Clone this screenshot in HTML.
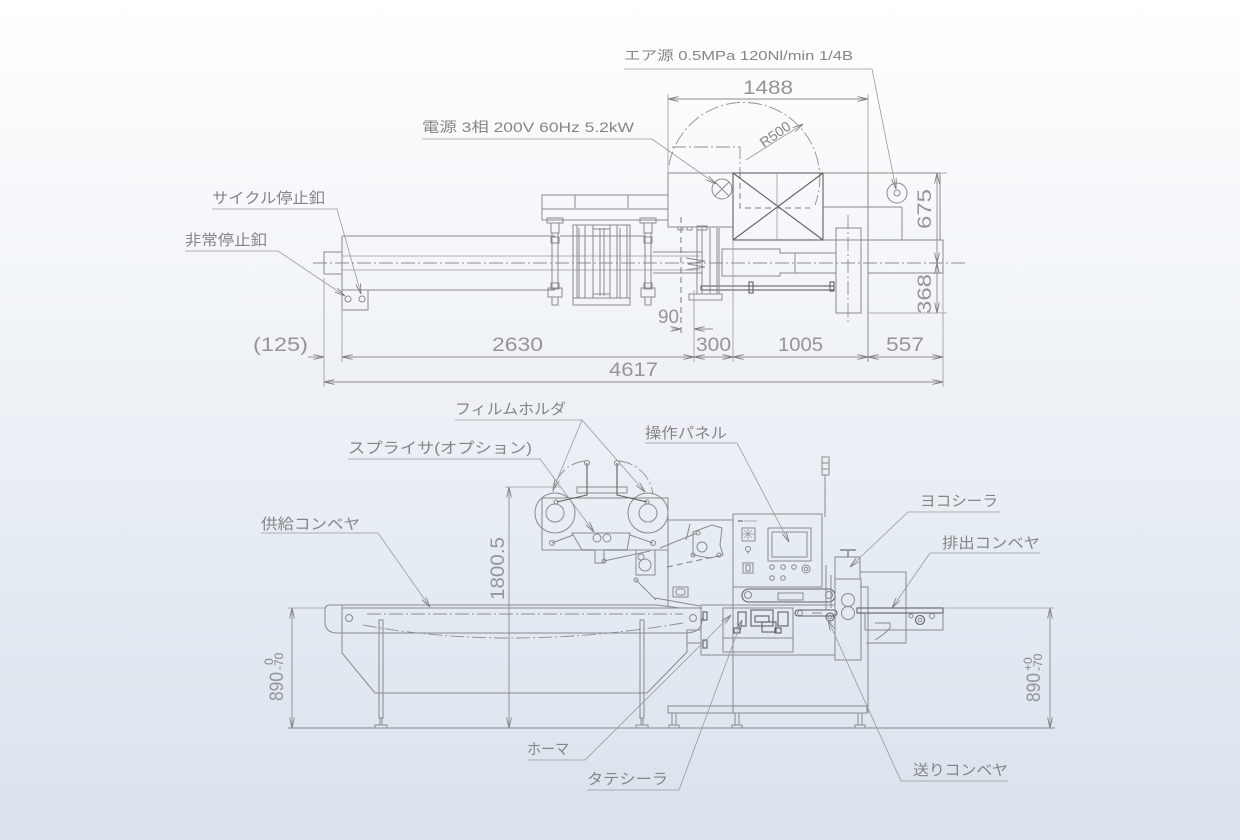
<!DOCTYPE html>
<html><head><meta charset="utf-8"><style>
html,body{margin:0;padding:0;width:1240px;height:840px;overflow:hidden;}
svg{display:block}
text{font-family:"Liberation Sans","Noto Sans CJK JP",sans-serif;fill:#858585;}
.l{stroke:#8a8a8a;stroke-width:1;fill:none}
.k{stroke:#606060;stroke-width:1.1;fill:none}
.t{stroke:#9a9a9a;stroke-width:0.8;fill:none}
.dc{stroke:#8e8e8e;stroke-width:0.9;fill:none;stroke-dasharray:14 3 2 3}
.dh{stroke:#7e7e7e;stroke-width:1;fill:none;stroke-dasharray:6 4}
.dm{stroke:#8c8c8c;stroke-width:0.9;fill:none}
.lb{font-size:15px}
.dn{font-size:19px;fill:#959595}
</style></head><body>
<svg width="1240" height="840" viewBox="0 0 1240 840" xmlns="http://www.w3.org/2000/svg">
<defs>
<linearGradient id="bg" x1="0" y1="0" x2="0" y2="1">
<stop offset="0" stop-color="#ffffff"/>
<stop offset="0.45" stop-color="#eef2f7"/>
<stop offset="1" stop-color="#d9e2ed"/>
</linearGradient>
<marker id="a" markerWidth="11" markerHeight="5" refX="11" refY="2.5" orient="auto" markerUnits="userSpaceOnUse">
<path d="M0,0 L11,2.5 L0,5" fill="none" stroke="#808080" stroke-width="0.9"/>
</marker>
<marker id="as" markerWidth="11" markerHeight="5" refX="11" refY="2.5" orient="auto-start-reverse" markerUnits="userSpaceOnUse">
<path d="M0,0 L11,2.5 L0,5" fill="none" stroke="#808080" stroke-width="0.9"/>
</marker>
</defs>
<rect x="0" y="0" width="1240" height="840" fill="url(#bg)"/>

<!-- ================= TOP VIEW ================= -->
<text x="624" y="60" font-size="13" textLength="229" lengthAdjust="spacingAndGlyphs">エア源 0.5MPa 120Nl/min 1/4B</text>
<polyline class="t" points="624,69 872,69 896,189" marker-end="url(#a)"/>
<text x="422" y="132" font-size="14" textLength="212" lengthAdjust="spacingAndGlyphs">電源 3相 200V 60Hz 5.2kW</text>
<polyline class="t" points="422,139 652,139 716,184" marker-end="url(#a)"/>

<text class="lb" x="212" y="203" textLength="113" lengthAdjust="spacingAndGlyphs">サイクル停止釦</text>
<polyline class="t" points="212,209 337,209 361,294" marker-end="url(#a)"/>
<text class="lb" x="185" y="245" textLength="82" lengthAdjust="spacingAndGlyphs">非常停止釦</text>
<polyline class="t" points="185,251 278,251 345,296" marker-end="url(#a)"/>

<text class="dn" x="743" y="94" textLength="50" lengthAdjust="spacingAndGlyphs">1488</text>
<line class="dm" x1="668" y1="99" x2="868" y2="99" marker-start="url(#as)" marker-end="url(#as)"/>
<line class="t" x1="668" y1="94" x2="668" y2="173"/>
<line class="t" x1="868" y1="94" x2="868" y2="173"/>

<path class="dc" d="M669,165 A76,76 0 1 1 815,205"/>
<line class="t" x1="746" y1="160" x2="803" y2="124" marker-end="url(#a)"/>
<text x="0" y="0" font-size="14" transform="translate(764,148) rotate(-35)" textLength="34" lengthAdjust="spacingAndGlyphs">R500</text>
<polyline class="dc" points="672,147 740,147 740,173"/>
<polyline class="dh" points="740,173 740,208 810,208"/>

<line class="dc" x1="313" y1="263" x2="966" y2="263"/>

<rect class="l" x="324" y="252" width="18" height="22"/>
<line class="l" x1="342" y1="236" x2="555" y2="236"/>
<line class="l" x1="342" y1="236" x2="342" y2="290"/>
<line class="t" x1="342" y1="256" x2="700" y2="256"/>
<line class="t" x1="342" y1="270" x2="700" y2="270"/>
<line class="l" x1="342" y1="290" x2="555" y2="290"/>
<line class="l" x1="560" y1="236" x2="645" y2="236"/>
<line class="l" x1="653" y1="252" x2="702" y2="252"/>
<line class="l" x1="653" y1="273" x2="702" y2="273"/>
<rect class="l" x="342" y="290" width="26" height="20"/>
<circle class="l" cx="348" cy="299" r="3"/>
<circle class="l" cx="362" cy="299" r="3"/>

<rect class="l" x="542" y="195" width="126" height="25"/>
<polyline class="l" points="575,208 575,195"/>
<polyline class="l" points="628,208 628,195"/>
<line class="l" x1="542" y1="209" x2="668" y2="209"/>

<g class="l">
<rect x="547" y="218" width="16" height="5"/>
<rect x="551" y="223" width="8" height="10"/>
<rect x="552" y="233" width="6" height="55"/>
<rect x="551" y="237" width="8" height="6"/>
<rect x="551" y="283" width="8" height="6"/>
<rect x="548" y="288" width="14" height="9"/>
<rect x="552" y="297" width="6" height="8"/>
<rect x="640" y="218" width="16" height="5"/>
<rect x="644" y="223" width="8" height="10"/>
<rect x="645" y="233" width="6" height="55"/>
<rect x="644" y="237" width="8" height="6"/>
<rect x="644" y="283" width="8" height="6"/>
<rect x="641" y="288" width="14" height="9"/>
<rect x="645" y="297" width="6" height="8"/>
</g>
<rect class="l" x="573" y="225" width="57" height="73"/>
<rect class="l" x="573" y="298" width="57" height="7"/>
<g class="l">
<line x1="577" y1="225" x2="577" y2="298"/><line x1="579" y1="228" x2="579" y2="298"/>
<line x1="585" y1="225" x2="585" y2="298"/><line x1="593" y1="225" x2="593" y2="298"/>
<line x1="600" y1="228" x2="600" y2="296"/><line x1="604" y1="228" x2="604" y2="296"/>
<line x1="610" y1="225" x2="610" y2="298"/><line x1="617" y1="225" x2="617" y2="298"/>
<line x1="620" y1="228" x2="620" y2="298"/><line x1="627" y1="225" x2="627" y2="298"/>
<line x1="593" y1="229" x2="610" y2="229"/><line x1="593" y1="294" x2="610" y2="294"/>
</g>

<rect class="l" x="668" y="173" width="65" height="54"/>
<circle class="l" cx="722" cy="189" r="10"/>
<line class="l" x1="715" y1="182" x2="729" y2="196"/><line class="l" x1="729" y1="182" x2="715" y2="196"/>
<g class="l"><rect x="678" y="227" width="5" height="3"/><rect x="687" y="227" width="5" height="3"/></g>
<rect class="k" x="733" y="173" width="90" height="67"/>
<line class="k" x1="733" y1="173" x2="823" y2="240"/>
<line class="k" x1="823" y1="173" x2="733" y2="240"/>
<line class="t" x1="777" y1="173" x2="777" y2="240"/>
<line class="l" x1="823" y1="173" x2="940" y2="173"/>
<line class="l" x1="940" y1="173" x2="940" y2="240"/>
<line class="l" x1="823" y1="207" x2="902" y2="207"/>
<line class="l" x1="902" y1="207" x2="902" y2="240"/>
<line class="l" x1="868" y1="173" x2="868" y2="362"/>
<line class="l" x1="823" y1="240" x2="868" y2="240"/>
<rect class="l" x="868" y="240" width="75" height="33"/>
<circle class="l" cx="897" cy="193" r="10"/>
<circle class="l" cx="897" cy="193" r="3"/>
<rect class="l" x="836" y="228" width="25" height="85"/>
<line class="dc" x1="848" y1="215" x2="848" y2="323"/>
<path class="l" d="M722,249 H780 V253 H795 V273 H780 V276 H722 Z"/>
<line class="l" x1="795" y1="253" x2="836" y2="253"/>
<line class="l" x1="795" y1="273" x2="836" y2="273"/>
<rect class="k" x="701" y="286" width="133" height="4"/>
<rect class="k" x="749" y="282" width="4" height="11"/>
<rect class="k" x="830" y="282" width="4" height="9"/>
<g class="l">
<line x1="697" y1="228" x2="697" y2="294"/><line x1="702" y1="228" x2="702" y2="294"/>
<line x1="710" y1="228" x2="710" y2="294"/><line x1="717" y1="228" x2="717" y2="294"/>
<line x1="719" y1="228" x2="719" y2="294"/>
<rect x="689" y="294" width="33" height="6"/>
<rect x="697" y="226" width="10" height="4"/>
</g>
<polyline class="l" points="686,258 705,261 688,264 705,267 686,270"/>

<line class="t" x1="940" y1="173" x2="947" y2="173"/>
<line class="t" x1="868" y1="313" x2="947" y2="313"/>
<line class="dm" x1="937" y1="173" x2="937" y2="263" marker-start="url(#as)" marker-end="url(#as)"/>
<line class="dm" x1="937" y1="263" x2="937" y2="313" marker-start="url(#as)" marker-end="url(#as)"/>
<text class="dn" transform="translate(931,229) rotate(-90)" textLength="40" lengthAdjust="spacingAndGlyphs">675</text>
<text class="dn" transform="translate(931,314) rotate(-90)" textLength="40" lengthAdjust="spacingAndGlyphs">368</text>

<line class="dh" x1="681" y1="217" x2="681" y2="333"/>
<line class="t" x1="694" y1="290" x2="694" y2="362"/>
<line class="dm" x1="672" y1="329" x2="681" y2="329" marker-end="url(#a)"/>
<line class="dm" x1="713" y1="329" x2="694" y2="329" marker-end="url(#a)"/>
<text class="dn" x="658" y="323" textLength="21" lengthAdjust="spacingAndGlyphs">90</text>

<line class="t" x1="324" y1="278" x2="324" y2="387"/>
<line class="t" x1="342" y1="310" x2="342" y2="362"/>
<line class="t" x1="733" y1="240" x2="733" y2="362"/>
<line class="t" x1="943" y1="273" x2="943" y2="387"/>
<line class="dm" x1="308" y1="357" x2="324" y2="357" marker-end="url(#a)"/>
<line class="dm" x1="342" y1="357" x2="694" y2="357" marker-start="url(#as)" marker-end="url(#as)"/>
<line class="dm" x1="694" y1="357" x2="733" y2="357" marker-start="url(#as)" marker-end="url(#as)"/>
<line class="dm" x1="733" y1="357" x2="868" y2="357" marker-start="url(#as)" marker-end="url(#as)"/>
<line class="dm" x1="868" y1="357" x2="943" y2="357" marker-start="url(#as)" marker-end="url(#as)"/>
<line class="dm" x1="324" y1="382" x2="943" y2="382" marker-start="url(#as)" marker-end="url(#as)"/>
<text class="dn" x="253" y="351" textLength="55" lengthAdjust="spacingAndGlyphs">(125)</text>
<text class="dn" x="492" y="351" textLength="51" lengthAdjust="spacingAndGlyphs">2630</text>
<text class="dn" x="696" y="351" textLength="35" lengthAdjust="spacingAndGlyphs">300</text>
<text class="dn" x="778" y="351" textLength="45" lengthAdjust="spacingAndGlyphs">1005</text>
<text class="dn" x="886" y="351" textLength="38" lengthAdjust="spacingAndGlyphs">557</text>
<text class="dn" x="609" y="376" textLength="49" lengthAdjust="spacingAndGlyphs">4617</text>

<!-- ================= SIDE VIEW ================= -->
<line class="l" x1="288" y1="728" x2="1055" y2="728"/>
<line class="t" x1="288" y1="608" x2="325" y2="608"/>
<line class="t" x1="945" y1="608" x2="1054" y2="608"/>
<line class="dm" x1="292" y1="608" x2="292" y2="728" marker-start="url(#as)" marker-end="url(#as)"/>
<line class="dm" x1="1050" y1="608" x2="1050" y2="728" marker-start="url(#as)" marker-end="url(#as)"/>
<g transform="translate(283,701) rotate(-90)">
<text class="dn" x="0" y="0" textLength="29" lengthAdjust="spacingAndGlyphs">890</text>
<text x="31" y="0" font-size="12" fill="#959595">-70</text>
<text x="36" y="-10" font-size="12" fill="#959595">0</text>
</g>
<g transform="translate(1040,702) rotate(-90)">
<text class="dn" x="0" y="0" textLength="29" lengthAdjust="spacingAndGlyphs">890</text>
<text x="31" y="2" font-size="12" fill="#959595">-70</text>
<text x="31" y="-8" font-size="12" fill="#959595">+0</text>
</g>
<line class="t" x1="505" y1="487" x2="560" y2="487"/>
<line class="dm" x1="509" y1="487" x2="509" y2="728" marker-start="url(#as)" marker-end="url(#as)"/>
<text class="dn" transform="translate(504,600) rotate(-90)" textLength="63" lengthAdjust="spacingAndGlyphs">1800.5</text>

<path class="l" d="M342,605 H657 L680,608 H702"/>
<path class="l" d="M342,605 H330 Q325,605 325,610 V622 Q325,633 338,633 H687"/>
<line class="l" x1="342" y1="608" x2="700" y2="608"/>
<path class="l" d="M342,605 V653 L375,693 H647 L687,652 V640"/>
<circle class="l" cx="349" cy="618" r="3.5"/>
<circle class="l" cx="693" cy="618" r="3.5"/>
<path class="l" d="M687,633 Q703,632 702,618"/>
<line class="dc" x1="367" y1="614" x2="683" y2="614"/>
<path class="dc" d="M363,625 Q510,652 683,623"/>
<g class="l">
<rect x="379" y="620" width="4" height="98"/><rect x="380" y="718" width="2" height="7"/><rect x="375" y="725" width="12" height="3"/>
<rect x="640" y="620" width="4" height="98"/><rect x="641" y="718" width="2" height="7"/><rect x="636" y="725" width="12" height="3"/>
</g>
<rect class="l" x="687" y="630" width="14" height="13"/>

<rect class="l" x="542" y="498" width="126" height="52"/>
<circle class="l" cx="555" cy="513" r="20"/>
<circle class="l" cx="555" cy="513" r="9"/>
<circle class="l" cx="648" cy="513" r="20"/>
<circle class="l" cx="648" cy="513" r="9"/>
<circle class="l" cx="556" cy="502" r="2"/>
<circle class="l" cx="647" cy="502" r="2"/>
<rect class="l" x="577" y="487" width="50" height="6"/>
<polyline class="k" points="587,463 587,495 557,502"/>
<polyline class="k" points="617,463 617,495 647,502"/>
<circle class="l" cx="587" cy="463" r="2.5"/>
<circle class="l" cx="617" cy="463" r="2.5"/>
<path class="dc" d="M585,461 A36,36 0 0 0 553,492"/>
<path class="dc" d="M619,461 A38,38 0 0 1 653,494"/>
<path class="l" d="M572,533 H630 L627,550 H582 Z"/>
<circle class="l" cx="597" cy="538" r="4"/>
<circle class="l" cx="607" cy="538" r="4"/>
<line class="l" x1="552" y1="543" x2="573" y2="535"/>
<line class="l" x1="653" y1="543" x2="630" y2="535"/>
<circle class="l" cx="552" cy="543" r="2.5"/>
<circle class="l" cx="653" cy="543" r="2.5"/>
<line class="k" x1="582" y1="550" x2="627" y2="550" stroke-width="2"/>
<rect class="l" x="595" y="550" width="9" height="13"/>
<circle class="l" cx="604" cy="561" r="2"/>
<line class="l" x1="604" y1="561" x2="650" y2="551"/>

<line class="l" x1="668" y1="520" x2="733" y2="520"/>
<line class="l" x1="668" y1="520" x2="668" y2="606"/>
<rect class="l" x="636" y="550" width="19" height="25"/>
<circle class="l" cx="645" cy="565" r="6"/>
<circle class="l" cx="641" cy="557" r="3"/>
<line class="l" x1="636" y1="580" x2="656" y2="600"/>
<circle class="l" cx="636" cy="580" r="2"/>
<path class="l" d="M693,532 L712,525 L722,528 L720,545 L723,555 L710,558 L693,555 Z"/>
<circle class="l" cx="702" cy="547" r="5"/>
<circle class="l" cx="698" cy="533" r="2"/>
<circle class="l" cx="719" cy="555" r="2"/>
<circle class="l" cx="693" cy="555" r="2"/>
<line class="l" x1="660" y1="548" x2="697" y2="533"/>
<line class="dh" x1="667" y1="567" x2="718" y2="556"/>
<line class="l" x1="690" y1="524" x2="686" y2="540"/>
<rect class="l" x="673" y="587" width="15" height="10"/>
<rect class="l" x="676" y="589" width="9" height="6" rx="2"/>
<line class="l" x1="655" y1="598" x2="700" y2="606"/>

<rect class="l" x="733" y="514" width="89" height="73"/>
<line class="k" x1="738" y1="521" x2="743" y2="521" stroke-width="2"/>
<line class="t" x1="744" y1="521" x2="757" y2="521" stroke-width="1.5"/>
<rect class="l" x="742" y="528" width="13" height="13"/>
<g class="t"><line x1="748" y1="529" x2="748" y2="540"/><line x1="743" y1="534" x2="754" y2="534"/><line x1="744" y1="530" x2="752" y2="538"/><line x1="752" y1="530" x2="744" y2="538"/></g>
<circle class="l" cx="748" cy="549" r="2.5"/><line class="l" x1="748" y1="551" x2="748" y2="554"/>
<rect class="l" x="743" y="563" width="10" height="10"/>
<rect class="l" x="746" y="565" width="4" height="6"/>
<rect class="l" x="768" y="528" width="43" height="33"/>
<rect class="l" x="772" y="532" width="35" height="25"/>
<g class="l">
<circle cx="772" cy="567" r="2.3"/><circle cx="783" cy="567" r="2.3"/><circle cx="794" cy="567" r="2.3"/>
<circle cx="806" cy="569" r="4"/><circle cx="806" cy="569" r="1.8"/>
<circle cx="772" cy="578" r="2.3"/><circle cx="783" cy="578" r="2.3"/>
</g>
<line class="l" x1="825" y1="475" x2="825" y2="517"/>
<rect class="l" x="822" y="457" width="7" height="18"/>
<line class="l" x1="822" y1="463" x2="829" y2="463"/>
<line class="l" x1="822" y1="469" x2="829" y2="469"/>
<rect class="k" x="742" y="589" width="93" height="13" rx="6.5"/>
<circle class="l" cx="748" cy="595" r="3.5"/>
<circle class="l" cx="829" cy="595" r="3.5"/>
<rect class="l" x="778" y="593" width="25" height="7"/>
<line class="l" x1="826" y1="565" x2="826" y2="610"/>
<line class="l" x1="831" y1="575" x2="831" y2="608"/>

<rect class="l" x="701" y="605" width="134" height="50"/>
<rect class="l" x="723" y="608" width="70" height="44"/>
<line class="l" x1="723" y1="638" x2="793" y2="638"/>
<line class="l" x1="733" y1="587" x2="733" y2="713"/>
<g class="k">
<rect x="703" y="612" width="4" height="8"/><rect x="703" y="640" width="4" height="8"/>
<rect x="738" y="612" width="8" height="14"/>
<rect x="751" y="610" width="22" height="16"/>
<rect x="755" y="616" width="14" height="6"/>
<rect x="762" y="622" width="14" height="10"/>
<rect x="778" y="612" width="10" height="14"/>
<rect x="734" y="628" width="6" height="5"/><rect x="775" y="628" width="6" height="5"/>
</g>
<rect class="k" x="795" y="610" width="42" height="6" rx="3"/>
<circle class="k" cx="830" cy="617" r="4"/><circle class="l" cx="830" cy="617" r="1.8"/>
<circle class="l" cx="800" cy="613" r="2.5"/>
<line class="l" x1="812" y1="613" x2="822" y2="613" stroke-width="2"/>

<rect class="l" x="835" y="557" width="25" height="22"/>
<rect class="l" x="835" y="579" width="26" height="81"/>
<line class="k" x1="848" y1="551" x2="848" y2="557"/>
<line class="k" x1="840" y1="550" x2="856" y2="550" stroke-width="2"/>
<circle class="l" cx="848" cy="600" r="6.5"/>
<circle class="l" cx="848" cy="613" r="6.5"/>
<polyline class="l" points="860,572 906,572 906,643 866,643"/>
<polyline class="l" points="860,587 868,587 868,713"/>
<rect class="k" x="857" y="608" width="86" height="5"/>
<polyline class="l" points="865,613 865,630 943,630 943,613"/>
<circle class="k" cx="920" cy="620" r="4.5"/><circle class="l" cx="920" cy="620" r="1.8"/>
<circle class="l" cx="932" cy="616" r="2.5"/><circle class="l" cx="911" cy="616" r="2"/>
<path class="l" d="M875,623 H890 V628 Q885,634 875,640"/>

<rect class="l" x="668" y="706" width="199" height="7"/>
<g class="l">
<rect x="672" y="713" width="4" height="12"/><rect x="669" y="725" width="10" height="3"/>
<rect x="735" y="713" width="4" height="12"/><rect x="732" y="725" width="10" height="3"/>
<rect x="858" y="713" width="4" height="12"/><rect x="855" y="725" width="10" height="3"/>
</g>

<text class="lb" x="455" y="414" textLength="111" lengthAdjust="spacingAndGlyphs">フィルムホルダ</text>
<polyline class="t" points="455,420 582,420 553,490" marker-end="url(#a)"/>
<line class="t" x1="582" y1="420" x2="645" y2="492" marker-end="url(#a)"/>
<text class="lb" x="348" y="453" textLength="184" lengthAdjust="spacingAndGlyphs">スプライサ(オプション)</text>
<polyline class="t" points="348,459 540,459 594,532" marker-end="url(#a)"/>
<text class="lb" x="645" y="438" textLength="82" lengthAdjust="spacingAndGlyphs">操作パネル</text>
<polyline class="t" points="645,443 737,443 789,542" marker-end="url(#a)"/>
<text class="lb" x="261" y="529" textLength="99" lengthAdjust="spacingAndGlyphs">供給コンベヤ</text>
<polyline class="t" points="261,533 378,533 430,607" marker-end="url(#a)"/>
<text class="lb" x="920" y="506" textLength="78" lengthAdjust="spacingAndGlyphs">ヨコシーラ</text>
<polyline class="t" points="1000,512 908,512 850,567" marker-end="url(#a)"/>
<text class="lb" x="942" y="548" textLength="98" lengthAdjust="spacingAndGlyphs">排出コンベヤ</text>
<polyline class="t" points="1040,553 930,553 892,608" marker-end="url(#a)"/>
<text class="lb" x="527" y="754" textLength="42" lengthAdjust="spacingAndGlyphs">ホーマ</text>
<polyline class="t" points="527,760 585,760 731,615" marker-end="url(#a)"/>
<text class="lb" x="587" y="784" textLength="81" lengthAdjust="spacingAndGlyphs">タテシーラ</text>
<polyline class="t" points="587,790 679,790 742,620" marker-end="url(#a)"/>
<text class="lb" x="913" y="775" textLength="95" lengthAdjust="spacingAndGlyphs">送りコンベヤ</text>
<polyline class="t" points="1008,781 901,781 828,620" marker-end="url(#a)"/>
</svg>
</body></html>
